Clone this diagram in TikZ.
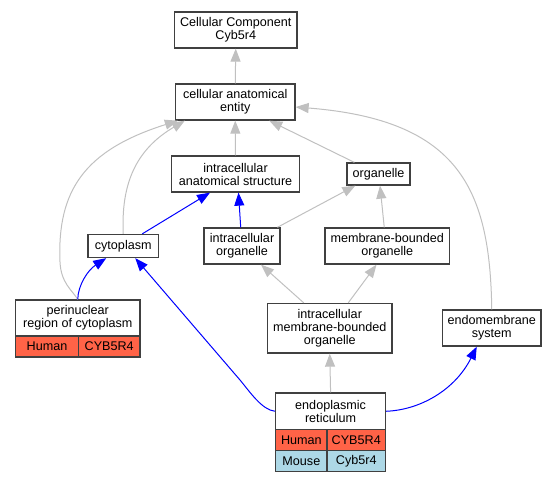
\documentclass[tikz,border=0pt]{standalone}
\usepackage{fontspec}
\setmainfont{Liberation Sans}
\usetikzlibrary{arrows.meta}
\definecolor{bord}{RGB}{64,64,64}
\definecolor{edgegray}{RGB}{192,192,192}
\definecolor{human}{RGB}{255,99,71}
\definecolor{mouse}{RGB}{173,216,230}
\tikzset{
  box/.style={draw=bord, line width=1.3pt, fill=white, inner sep=0pt, align=center,
    font=\fontsize{12.6}{13}\selectfont},
  gedge/.style={draw=edgegray, line width=1pt, -{Triangle[length=13pt,width=10pt]}},
  bedge/.style={draw=blue, line width=1pt, -{Triangle[length=13pt,width=10pt]}},
}
\begin{document}
\begin{tikzpicture}[x=1pt,y=-1pt]
\useasboundingbox (0,0) rectangle (557,483);
% nodes
\node[box, minimum width=122.5pt, minimum height=36pt] (cc) at (235.75,30) {Cellular Component\\Cyb5r4};
\node[box, minimum width=119.5pt, minimum height=36pt] (cae) at (235.25,102) {cellular anatomical\\entity};
\node[box, minimum width=128pt, minimum height=36pt] (ias) at (235.5,174) {intracellular\\anatomical structure};
\node[box, minimum width=63pt, minimum height=22pt] (org) at (378.5,174) {organelle};
\node[box, minimum width=70.5pt, minimum height=23pt] (cyto) at (123.25,246) {cytoplasm};
\node[box, minimum width=76pt, minimum height=36pt] (io) at (242,246) {intracellular\\organelle};
\node[box, minimum width=124.5pt, minimum height=36pt] (mbo) at (387.25,246) {membrane-bounded\\organelle};
\node[box, minimum width=124.5pt, minimum height=49.5pt] (imbo) at (329.75,328.25) {intracellular\\membrane-bounded\\organelle};
\node[box, minimum width=98.5pt, minimum height=36pt] (emb) at (491.75,328) {endomembrane\\system};
% perinuclear table
\node[box, minimum width=124.5pt, minimum height=36pt] (peri) at (77.75,318) {perinuclear\\region of cytoplasm};
\node[box, fill=human, minimum width=63pt, minimum height=21pt] (perih) at (47,346.5) {Human};
\node[box, fill=human, minimum width=61.5pt, minimum height=21pt] (perig) at (109.25,346.5) {CYB5R4};
% ER table
\node[box, minimum width=109.8pt, minimum height=36.5pt] (er) at (330.6,411.25) {endoplasmic\\reticulum};
\node[box, fill=human, minimum width=51.3pt, minimum height=21pt] (erh) at (301.35,440) {Human};
\node[box, fill=human, minimum width=58.5pt, minimum height=21pt] (erhg) at (356.25,440) {CYB5R4};
\node[box, fill=mouse, minimum width=51.3pt, minimum height=21pt] (erm) at (301.35,461) {Mouse};
\node[box, fill=mouse, minimum width=58.5pt, minimum height=21pt] (ermg) at (356.25,461) {Cyb5r4};
% edges
\draw[gedge] (cae.north) -- (cc.south);
\draw[gedge] (ias.north) -- (cae.south);
\draw[gedge] ([xshift=8pt]org.north west) -- ([xshift=34pt]cae.south);
\draw[gedge] (cyto.north) .. controls (121,185) and (135,150) .. ([xshift=10pt]cae.south west);
\draw[gedge] (peri.north) .. controls (72,290) and (61,283) .. (60,262) .. controls (57,190) and (85,150) .. ([xshift=3pt]cae.south west);
\draw[gedge] (emb.north) .. controls (490,190) and (460,120) .. ([yshift=-5pt]cae.east);
\draw[bedge] ([xshift=19pt]cyto.north) -- ([xshift=-25.5pt]ias.south);
\draw[bedge] ([xshift=-1.3pt]io.north) -- ([xshift=3pt]ias.south);
\draw[gedge] ([xshift=-3.3pt]io.north east) -- ([xshift=9pt]org.south west);
\draw[gedge] ([xshift=-3pt]mbo.north) -- ([xshift=1.5pt]org.south);
\draw[bedge] (peri.north) .. controls (78,285) and (88,270) .. ([xshift=-17pt]cyto.south);
\draw[bedge] (er.west) .. controls (262,410) and (250,392) .. (240,380) -- ([xshift=12pt]cyto.south);
\draw[gedge] ([xshift=-26pt]imbo.north) -- ([xshift=19pt]io.south);
\draw[gedge] ([xshift=18.5pt]imbo.north) -- ([xshift=-10.75pt]mbo.south);
\draw[gedge] (er.north) -- (imbo.south);
\draw[bedge] (er.east) .. controls (420,410) and (455,390) .. ([xshift=-15pt]emb.south);
\end{tikzpicture}
\end{document}
